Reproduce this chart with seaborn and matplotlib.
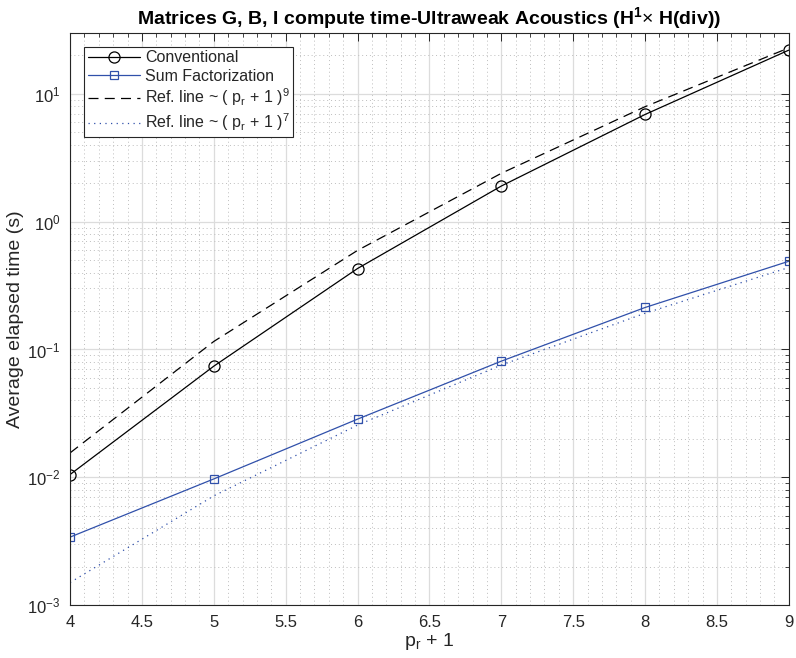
import numpy as np
import pandas as pd
import matplotlib
matplotlib.use("Agg")
import matplotlib.pyplot as plt
import seaborn as sns
from matplotlib.ticker import MultipleLocator, LogLocator, NullFormatter

# ---- data ----
p_plus_1 = [4, 5, 6, 7, 8, 9]
conventional = [0.0105, 0.074, 0.43, 1.9, 6.9, 22.0]
sum_factorization = [0.0034, 0.0097, 0.0285, 0.081, 0.213, 0.49]
ref_line_9 = [0.0155, 0.1155, 0.596, 2.39, 7.94, 22.9]
ref_line_7 = [0.0015, 0.00715, 0.0256, 0.0755, 0.192, 0.438]

labels = ["Conventional", "Sum Factorization",
          r"Ref. line ~ ( p$_{\mathregular{r}}$ + 1 )$^{9}$",
          r"Ref. line ~ ( p$_{\mathregular{r}}$ + 1 )$^{7}$"]
x_ticks = [4, 4.5, 5, 5.5, 6, 6.5, 7, 7.5, 8, 8.5, 9]

sns.set_theme(style="white")
plt.rcParams['font.family'] = ['Liberation Sans', 'DejaVu Sans']
plt.rcParams['mathtext.fontset'] = 'custom'
plt.rcParams['mathtext.rm'] = 'Liberation Sans'
plt.rcParams['mathtext.it'] = 'Liberation Sans:italic'
plt.rcParams['mathtext.bf'] = 'Liberation Sans:bold'

fig = plt.figure(figsize=(7.96, 6.58), dpi=100)
ax = fig.add_axes([0.088, 0.0805, 0.903, 0.8695])

blue = '#3050aa'
df = pd.DataFrame({"x": p_plus_1, "conv": conventional, "sf": sum_factorization,
                   "r9": ref_line_9, "r7": ref_line_7})

sns.lineplot(data=df, x="x", y="conv", ax=ax, color='black', lw=0.9,
             marker='o', markersize=8, markerfacecolor='none',
             markeredgecolor='black', markeredgewidth=0.9, label=labels[0])
sns.lineplot(data=df, x="x", y="sf", ax=ax, color=blue, lw=0.9,
             marker='s', markersize=6, markerfacecolor='none',
             markeredgecolor=blue, markeredgewidth=0.9, label=labels[1])
sns.lineplot(data=df, x="x", y="r9", ax=ax, color='black', lw=0.9,
             label=labels[2])
sns.lineplot(data=df, x="x", y="r7", ax=ax, color=blue, lw=0.9,
             label=labels[3])
lines = ax.get_lines()
lines[2].set_dashes([8, 5])
lines[3].set_linestyle((0, (1, 3.5)))

ax.set_yscale('log')
ax.set_xlim(4, 9)
ax.set_ylim(1e-3, 30)
ax.set_xticks(x_ticks)
ax.set_xticklabels([f"{t:g}" for t in x_ticks])
ax.xaxis.set_minor_locator(MultipleLocator(0.1))
ax.yaxis.set_major_locator(LogLocator(base=10, numticks=10))
ax.yaxis.set_minor_locator(LogLocator(base=10, subs=np.arange(2, 10), numticks=20))
ax.yaxis.set_minor_formatter(NullFormatter())

ax.grid(True, which='major', color='#dcdcdc', lw=0.9, ls='-')
ax.grid(True, which='minor', color='#bdbdbd', lw=0.7, ls=(0, (1, 3)))
ax.set_axisbelow(True)

for s in ax.spines.values():
    s.set_color('#262626')
    s.set_linewidth(0.8)
ax.tick_params(which='major', direction='in', length=6, width=0.7, top=True, right=True,
               labelsize=12, colors='#262626', pad=7)
ax.tick_params(which='minor', direction='in', length=3, width=0.6, top=True, right=True,
               colors='#262626')
ax.tick_params(axis='both', labelcolor='#262626')

ax.set_xlabel(r"p$_{\mathregular{r}}$ + 1", fontsize=14, color='#262626', labelpad=1)
ax.set_ylabel("Average elapsed time (s)", fontsize=14, color='#262626', labelpad=2)
ax.set_title(r"Matrices G, B, I compute time-Ultraweak Acoustics (H$^{\mathbf{1}}$$\times$ H(div))",
             fontsize=14, fontweight='bold', color='black', pad=6)

leg = ax.legend(loc='upper left', bbox_to_anchor=(0.02, 0.975), fontsize=11.5,
                frameon=True, fancybox=False, framealpha=1, edgecolor='#262626',
                handlelength=3.3, borderpad=0.2, labelspacing=0.2, handletextpad=0.3,
                borderaxespad=0)
leg.get_frame().set_linewidth(0.8)

fig.savefig("out.png", dpi=100)
